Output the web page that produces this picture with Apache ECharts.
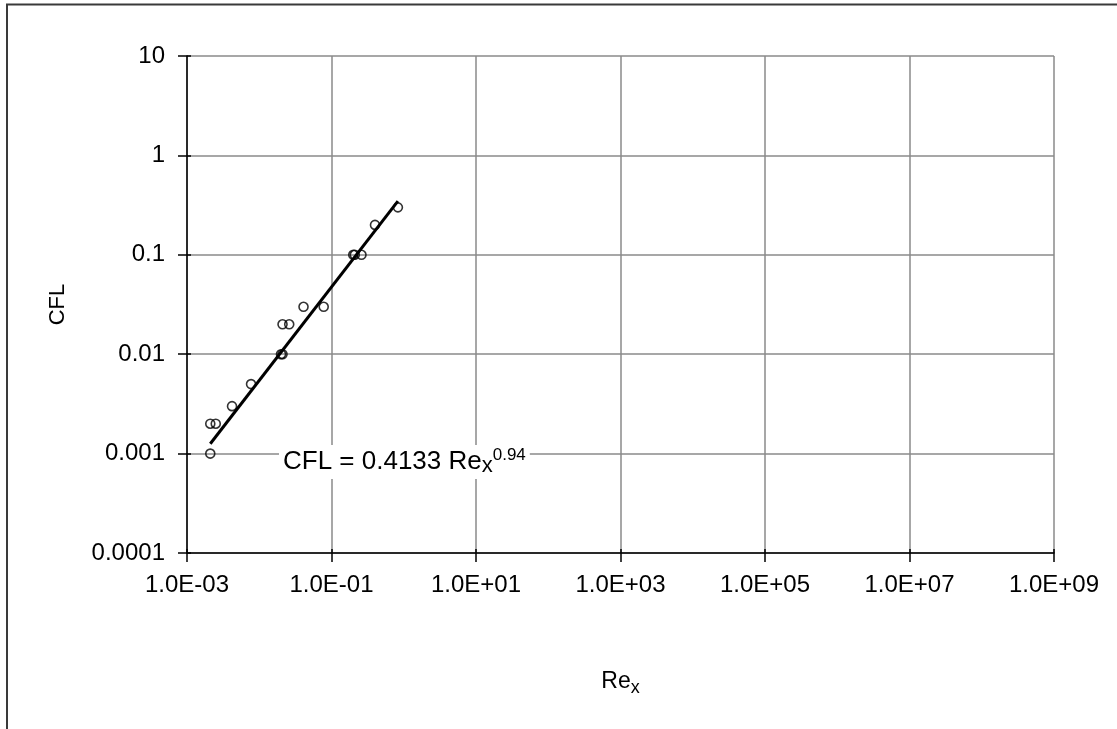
<!DOCTYPE html>
<html>
<head>
<meta charset="utf-8">
<script src="https://cdn.jsdelivr.net/npm/echarts@6/dist/echarts.min.js"></script>
<style>
  html, body { margin: 0; padding: 0; background: #fff; }
  #chart { width: 1117px; height: 729px; }
</style>
</head>
<body>
<div id="chart"></div>
<script>
// Measured points: local Reynolds number vs. CFL number
const reX = [0.0021, 0.0021, 0.0025, 0.0042, 0.0077, 0.020, 0.021, 0.021, 0.026, 0.041, 0.078, 0.20, 0.21, 0.26, 0.40, 0.83];
const cfl = [0.001, 0.002, 0.002, 0.003, 0.005, 0.010, 0.010, 0.020, 0.020, 0.030, 0.030, 0.10, 0.10, 0.10, 0.20, 0.30];

// Power-law fit CFL = a * Re_x^b
const fitCoef = 0.4133;
const fitExp = 0.94;

// Axis tick labels, keyed by decade exponent
const xTickExps = [-3, -1, 1, 3, 5, 7, 9];
const xTickLabels = ['1.0E-03', '1.0E-01', '1.0E+01', '1.0E+03', '1.0E+05', '1.0E+07', '1.0E+09'];
const yTickExps = [-4, -3, -2, -1, 0, 1];
const yTickLabels = ['0.0001', '0.001', '0.01', '0.1', '1', '10'];

const FONT = '"Liberation Sans", Arial, sans-serif';

function labelFor(exps, labels) {
  return function (v) {
    const e = Math.round(Math.log10(v));
    const i = exps.indexOf(e);
    return i < 0 ? '' : labels[i];
  };
}

const points = reX.map((x, i) => [x, cfl[i]]);
const reMin = Math.min(...reX);
const reMax = Math.max(...reX);
const fitLine = [reMin, reMax].map(x => [x, fitCoef * Math.pow(x, fitExp)]);

// Decade spacing of the ticks (in powers of ten)
const xBase = {
  type: 'log', logBase: 10, min: 1e-3, max: 1e9, interval: 2, splitNumber: 6,
  gridIndex: 0
};
const yBase = {
  type: 'log', logBase: 10, min: 1e-4, max: 10, interval: 1, splitNumber: 5,
  gridIndex: 0
};

const chart = echarts.init(document.getElementById('chart'), null, { renderer: 'canvas' });

chart.setOption({
  animation: false,
  backgroundColor: '#ffffff',
  grid: { left: 187, right: 63, top: 56, bottom: 176, containLabel: false },
  xAxis: [
    Object.assign({}, xBase, {
      position: 'bottom',
      name: '{a|Re}{b|x}',
      nameLocation: 'middle',
      nameGap: 114,
      nameTextStyle: {
        rich: {
          a: { fontFamily: FONT, fontSize: 23, color: '#000', lineHeight: 30, verticalAlign: 'middle' },
          b: { fontFamily: FONT, fontSize: 18, color: '#000', lineHeight: 19, verticalAlign: 'bottom' }
        }
      },
      axisLine: { show: true, lineStyle: { color: '#000', width: 1.5 } },
      axisTick: { show: true, inside: false, length: 9, lineStyle: { color: '#000', width: 1.5 } },
      minorTick: { show: false },
      axisLabel: {
        show: true, margin: 20, color: '#000', fontFamily: FONT, fontSize: 24,
        formatter: labelFor(xTickExps, xTickLabels)
      },
      splitLine: { show: true, lineStyle: { color: '#8a8a8a', width: 1.5 } }
    }),
    Object.assign({}, xBase, {
      position: 'bottom',
      axisLine: { show: false },
      axisTick: { show: true, inside: true, length: 4, lineStyle: { color: '#000', width: 1.5 } },
      axisLabel: { show: false },
      splitLine: { show: false }
    })
  ],
  yAxis: [
    Object.assign({}, yBase, {
      position: 'left',
      name: 'CFL',
      nameLocation: 'middle',
      nameGap: 118,
      nameRotate: 90,
      nameTextStyle: { fontFamily: FONT, fontSize: 22, color: '#000' },
      axisLine: { show: true, lineStyle: { color: '#000', width: 1.5 } },
      axisTick: { show: true, inside: false, length: 9, lineStyle: { color: '#000', width: 1.5 } },
      axisLabel: {
        show: true, margin: 22, color: '#000', fontFamily: FONT, fontSize: 24,
        formatter: labelFor(yTickExps, yTickLabels)
      },
      splitLine: { show: true, lineStyle: { color: '#8a8a8a', width: 1.5 } }
    }),
    Object.assign({}, yBase, {
      position: 'left',
      axisLine: { show: false },
      axisTick: { show: true, inside: true, length: 4, lineStyle: { color: '#000', width: 1.5 } },
      axisLabel: { show: false },
      splitLine: { show: false }
    })
  ],
  series: [
    {
      name: 'CFL',
      type: 'scatter',
      xAxisIndex: 0, yAxisIndex: 0,
      data: points,
      symbol: 'circle',
      symbolSize: 9,
      itemStyle: { color: 'rgba(255,255,255,0)', borderColor: '#000', borderWidth: 1.6 },
      z: 3
    },
    {
      name: 'Power fit',
      type: 'line',
      xAxisIndex: 0, yAxisIndex: 0,
      data: fitLine,
      showSymbol: false,
      symbol: 'none',
      lineStyle: { color: '#000', width: 3 },
      z: 4
    }
  ],
  graphic: [
    {
      type: 'rect',
      silent: true,
      shape: { x: 7, y: 4.5, width: 1300, height: 900 },
      style: { fill: 'none', stroke: '#3a3a3a', lineWidth: 2 },
      z: 100
    },
    {
      type: 'text',
      silent: true,
      x: 279,
      y: 462,
      style: {
        text: '{m|CFL = 0.4133 Re}{sub|x}{sup|' + fitExp.toFixed(2) + '}',
        verticalAlign: 'middle',
        align: 'left',
        backgroundColor: '#fff',
        padding: [2, 4, 2, 4],
        rich: {
          m: { fontFamily: FONT, fontSize: 26, fill: '#000', lineHeight: 30, verticalAlign: 'middle' },
          sub: { fontFamily: FONT, fontSize: 22, fill: '#000', lineHeight: 22, verticalAlign: 'bottom' },
          sup: { fontFamily: FONT, fontSize: 17, fill: '#000', lineHeight: 15, verticalAlign: 'top' }
        }
      },
      z: 50
    }
  ]
});
</script>
</body>
</html>
